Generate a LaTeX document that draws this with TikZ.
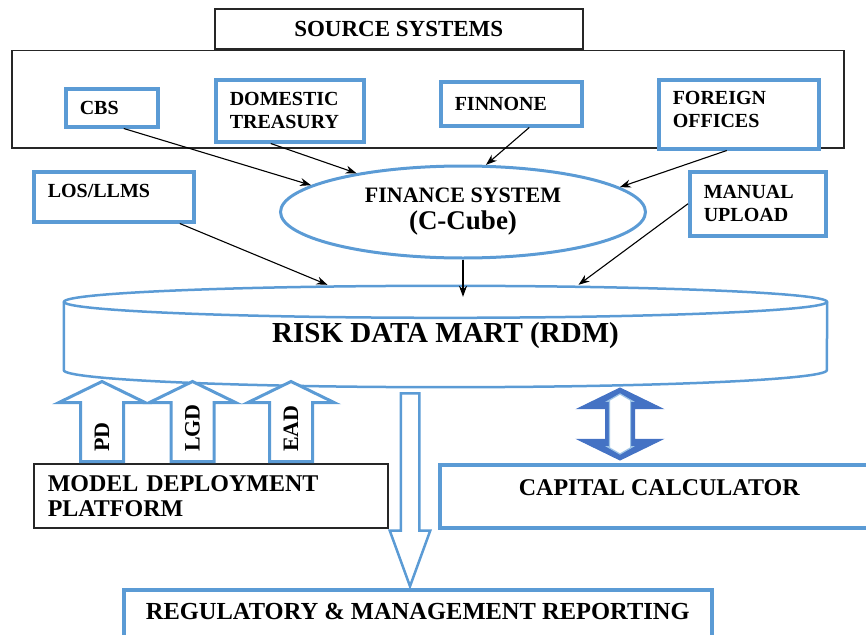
\documentclass[tikz,border=0pt]{standalone}
\usepackage{fontspec}
\setmainfont{Liberation Serif}
\usetikzlibrary{positioning,shapes.geometric,shapes.arrows,arrows.meta}

\definecolor{boxblue}{RGB}{91,155,213}
\definecolor{arrowblue}{RGB}{68,114,196}
\definecolor{lineblue}{RGB}{157,195,230}

\newcommand{\smallfont}{\fontsize{20}{23}\selectfont\bfseries}
\newcommand{\titlefont}{\fontsize{23}{25}\selectfont\bfseries}
\newcommand{\bigfont}{\fontsize{24}{25}\selectfont\bfseries}
\newcommand{\rdmfont}{\fontsize{29}{32}\selectfont\bfseries}

\tikzstyle{blackbox}=[
	rectangle,
	draw=black!85,
	line width=1.5pt,
	fill=white,
	inner sep=0pt]
\tikzstyle{bluebox}=[
	rectangle,
	draw=boxblue,
	line width=3.5pt,
	fill=white,
	anchor=north west]
\tikzstyle{feedbox}=[
	bluebox,
	align=left,
	inner xsep=14pt,
	inner ysep=0pt,
	font=\smallfont]
\tikzstyle{feed}=[
	-{Stealth[length=11pt,width=8pt]},
	line width=1.1pt,
	black]
\tikzstyle{martline}=[
	draw=boxblue,
	line width=2.5pt]
\tikzstyle{model}=[
	single arrow,
	rotate=90,
	anchor=tail,
	draw=boxblue,
	line width=3pt,
	fill=white,
	inner xsep=0pt,
	inner ysep=20pt,
	minimum height=80pt,
	single arrow head extend=22pt,
	single arrow tip angle=128]
\tikzstyle{modeltext}=[
	rotate=90,
	anchor=west,
	inner sep=0pt,
	font=\fontsize{22}{22}\selectfont\bfseries]

\begin{document}
\begin{tikzpicture}[x=1pt,y=-1pt]
	\useasboundingbox (0,0) rectangle (866,634);
	\clip (0,0) rectangle (866,634);

	% source systems
	\node (sources) [blackbox, anchor=north west, minimum width=832pt, minimum height=97pt] at (11,50) {};
	\node (srctitle) [blackbox, anchor=south west, minimum width=368pt, minimum height=40pt, font=\titlefont] at (214,50) {SOURCE SYSTEMS};

	\node (cbs) [feedbox, text width=64pt, minimum height=38pt] at (64,87) {CBS};
	\node (domestic) [feedbox, text width=120pt, minimum height=62pt] at (214,78) {DOMESTIC\\TREASURY};
	\node (finnone) [feedbox, text width=113pt, minimum height=44pt] at (439,80) {FINNONE};
	\node (foreign) [feedbox, text width=132pt, minimum height=69pt, text depth=32pt] at (657,78) {FOREIGN\\OFFICES};

	\node (los) [feedbox, text width=132pt, minimum height=50pt, text depth=12pt] at (32,170) {LOS/LLMS};
	\node (manual) [feedbox, text width=108pt, minimum height=64pt] at (688,170) {MANUAL\\UPLOAD};

	% finance system
	\node (fin) [ellipse, draw=boxblue, line width=3pt, fill=white, minimum width=365pt, minimum height=92pt,
		inner sep=0pt, align=center, font=\fontsize{22}{27}\selectfont\bfseries] at (463,212)
		{FINANCE SYSTEM\\{\fontsize{27}{27}\selectfont(C-Cube)}};

	% risk data mart
	\node (rdm) [minimum width=763pt, minimum height=102pt, inner sep=0pt, font=\rdmfont] at (445.5,336) {RISK DATA MART (RDM)};
	\draw[martline] ([yshift=-17pt]rdm.north) ellipse [x radius=381.5pt, y radius=16pt];
	\draw[martline] ([yshift=-17pt]rdm.north west) -- ([yshift=17pt]rdm.south west)
		arc [start angle=180, end angle=360, x radius=381.5pt, y radius=17pt] -- ([yshift=-17pt]rdm.north east);

	\draw[feed] ([xshift=12pt]cbs.south) -- (fin.170);
	\draw[feed] ([xshift=-19pt]domestic.south) -- (fin.160);
	\draw[feed] ([xshift=18pt]finnone.south) -- (fin.64);
	\draw[feed] ([xshift=-12pt]foreign.south) -- (fin.9);
	\draw[feed] ([xshift=66pt]los.south) -- ([xshift=-118pt]rdm.north);
	\draw[feed] (manual.west) -- ([xshift=133pt]rdm.north);
	\draw[feed, shorten >=-12pt] (fin.south) -- (fin.south |- rdm.north);

	% model deployment
	\node (mdp) [blackbox, anchor=north west, text width=326pt, minimum height=64pt, inner xsep=14pt,
		align=left, font=\bigfont] at (33,463) {MODEL DEPLOYMENT\\PLATFORM};
	\node (pd) [model] at (102,463) {};
	\node (lgd) [model] at (192.5,463) {};
	\node (ead) [model] at (291,463) {};
	\node (pdtext) [modeltext] at ([yshift=11pt]pd.tail) {PD};
	\node (lgdtext) [modeltext] at ([yshift=11pt]lgd.tail) {LGD};
	\node (eadtext) [modeltext] at ([yshift=11pt]ead.tail) {EAD};

	% capital calculator
	\node (capital) [bluebox, minimum width=439pt, minimum height=63pt, text height=16pt, text depth=17pt,
		font=\bigfont] at (438,463) {CAPITAL CALCULATOR};
	\node (link) [double arrow, rotate=90, draw=arrowblue, fill=arrowblue, line width=1pt, inner xsep=0pt,
		inner ysep=14pt, minimum height=72pt, double arrow head extend=28pt, double arrow tip angle=128] at (620,424) {};
	\node (linkin) [double arrow, rotate=90, draw=lineblue, fill=white, line width=1.2pt, inner xsep=0pt,
		inner ysep=10pt, minimum height=60pt, double arrow head extend=2pt, double arrow tip angle=120] at (link.center) {};

	% reporting
	\node (reg) [bluebox, minimum width=588pt, minimum height=58pt, text height=17pt, text depth=15pt,
		font=\fontsize{24.5}{25}\selectfont\bfseries] at (122,588) {REGULATORY \& MANAGEMENT REPORTING};
	\node (report) [single arrow, rotate=-90, anchor=tail, draw=boxblue, line width=2.5pt, fill=white,
		inner xsep=0pt, inner ysep=8pt, minimum height=193pt, single arrow head extend=11pt,
		single arrow tip angle=40] at (410,392) {};

\end{tikzpicture}
\end{document}
